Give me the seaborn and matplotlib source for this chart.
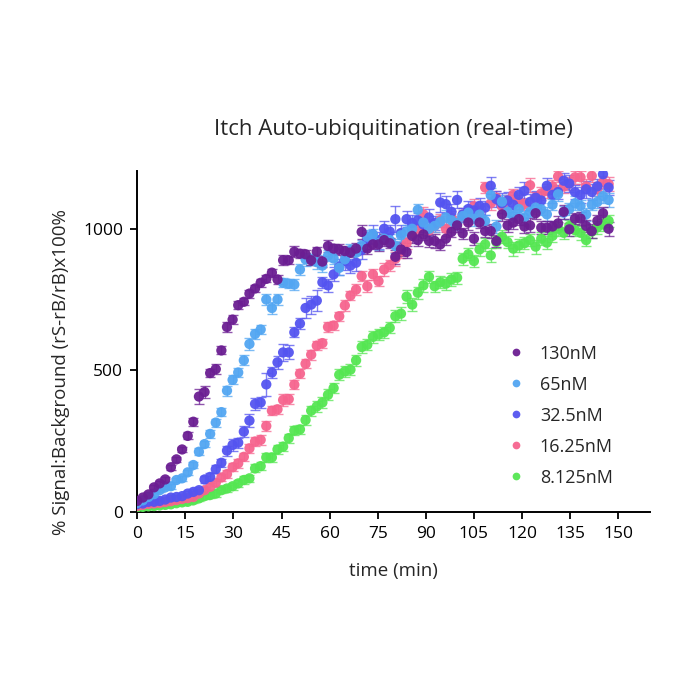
import matplotlib
matplotlib.use("Agg")
import matplotlib.pyplot as plt
import numpy as np
import pandas as pd
import seaborn as sns

# ---------------- data ----------------
time_min = [round(1.75 * i, 2) for i in range(85)]
series_labels = ["130nM", "65nM", "32.5nM", "16.25nM", "8.125nM"]
series_colors = ["#6b1e92", "#52a6f2", "#5454f0", "#f6648e", "#55e652"]

v_130 = [38, 50, 61, 86, 100, 114, 157, 185, 220, 268,
         318, 407, 423, 490, 504, 570, 653, 679, 730, 742,
         771, 789, 809, 823, 845, 821, 889, 889, 919, 912,
         910, 889, 919, 884, 939, 930, 927, 921, 916, 930,
         989, 930, 945, 945, 960, 949, 901, 927, 918, 975,
         960, 980, 957, 957, 945, 965, 989, 1012, 984, 1022,
         965, 1022, 992, 992, 957, 1051, 1012, 1022, 1034, 1008,
         1012, 1055, 1004, 1004, 1008, 1019, 1060, 998, 1036, 1036,
         1010, 992, 1028, 1055, 1000]
v_65 = [31, 40, 52, 62, 76, 86, 90, 112, 118, 139,
        165, 212, 239, 275, 315, 352, 428, 466, 492, 535,
        593, 628, 644, 750, 720, 750, 809, 806, 803, 856,
        892, 892, 882, 870, 905, 895, 862, 892, 925, 915,
        940, 972, 980, 950, 965, 960, 939, 977, 990, 1000,
        1067, 1022, 1000, 1010, 1025, 1040, 1030, 1020, 1045, 1057,
        1035, 1050, 1028, 1119, 1008, 1096, 1060, 1045, 1070, 1040,
        1060, 1075, 1069, 1051, 1085, 1122, 1057, 1070, 1090, 1081,
        1051, 1085, 1095, 1116, 1102]
v_32 = [27, 29, 35, 35, 38, 43, 50, 52, 55, 64,
        70, 76, 114, 123, 150, 173, 216, 236, 244, 283,
        322, 381, 386, 450, 492, 528, 563, 563, 634, 665,
        720, 732, 746, 811, 800, 839, 866, 886, 870, 880,
        925, 955, 980, 960, 1000, 990, 1034, 985, 1034, 1020,
        1030, 1015, 1040, 1020, 1093, 1087, 1060, 1102, 1050, 1070,
        1065, 1081, 1075, 1152, 1105, 1090, 1100, 1085, 1120, 1134,
        1095, 1110, 1100, 1152, 1120, 1130, 1170, 1160, 1130, 1120,
        1140, 1130, 1150, 1193, 1146]
v_16 = [20, 24, 27, 29, 31, 34, 37, 41, 45, 48,
        52, 64, 76, 88, 102, 121, 133, 157, 171, 194,
        224, 248, 254, 303, 357, 362, 395, 398, 449, 488,
        523, 555, 587, 596, 653, 658, 691, 729, 764, 785,
        833, 797, 839, 815, 856, 871, 894, 920, 950, 985,
        1000, 1051, 995, 1010, 1030, 1000, 1040, 1020, 1050, 1040,
        1080, 1060, 1146, 1090, 1110, 1080, 1100, 1120, 1095, 1087,
        1154, 1110, 1125, 1134, 1150, 1185, 1150, 1160, 1182, 1182,
        1150, 1187, 1140, 1165, 1158]
v_8 = [15, 17, 19, 20, 22, 24, 26, 30, 33, 35,
       40, 47, 55, 59, 64, 76, 82, 90, 100, 112,
       118, 153, 161, 192, 192, 220, 230, 260, 287, 291,
       324, 357, 372, 386, 413, 437, 484, 496, 502, 535,
       582, 590, 618, 626, 634, 650, 691, 700, 760, 732,
       774, 800, 830, 797, 811, 806, 821, 827, 894, 910,
       886, 927, 945, 906, 953, 972, 953, 930, 941, 949,
       960, 937, 965, 951, 975, 1000, 986, 1010, 995, 986,
       960, 990, 1005, 1015, 1028]

e_130 = [6, 6, 7, 7, 8, 8, 9, 10, 10, 12,
         14, 25, 22, 15, 18, 14, 18, 16, 14, 12,
         14, 13, 15, 12, 14, 16, 18, 15, 20, 15,
         14, 16, 18, 20, 22, 18, 20, 18, 16, 20,
         25, 20, 18, 22, 20, 18, 25, 22, 20, 24,
         20, 18, 22, 25, 20, 22, 18, 24, 20, 25,
         22, 20, 22, 24, 20, 25, 22, 24, 20, 22,
         25, 20, 24, 22, 20, 25, 24, 22, 20, 24,
         22, 25, 20, 22, 24]
e_65 = [5, 5, 6, 6, 7, 7, 8, 8, 9, 10,
        10, 12, 12, 14, 14, 15, 18, 16, 15, 18,
        20, 18, 16, 20, 22, 18, 16, 15, 18, 20,
        22, 20, 25, 22, 20, 18, 25, 20, 22, 24,
        20, 22, 18, 25, 20, 22, 24, 20, 22, 25,
        22, 20, 24, 22, 20, 25, 22, 24, 20, 22,
        24, 20, 22, 25, 22, 24, 20, 22, 25, 22,
        20, 24, 22, 25, 20, 24, 22, 20, 25, 22,
        24, 20, 22, 24, 25]
e_32 = [5, 5, 6, 6, 7, 7, 8, 8, 9, 10,
        10, 12, 12, 14, 14, 15, 18, 20, 18, 20,
        22, 20, 18, 40, 18, 22, 30, 25, 18, 20,
        35, 32, 38, 20, 22, 25, 28, 30, 25, 28,
        30, 25, 35, 30, 28, 25, 45, 30, 28, 30,
        25, 28, 30, 25, 35, 30, 28, 30, 25, 28,
        30, 28, 25, 30, 28, 35, 30, 25, 28, 30,
        28, 25, 30, 28, 30, 25, 28, 30, 25, 28,
        30, 28, 25, 30, 28]
e_16 = [5, 5, 6, 6, 7, 7, 8, 8, 9, 10,
        10, 10, 11, 12, 12, 13, 14, 14, 15, 15,
        16, 16, 18, 18, 16, 15, 20, 18, 16, 15,
        16, 18, 15, 16, 18, 15, 16, 18, 15, 20,
        18, 22, 20, 18, 22, 20, 25, 22, 20, 24,
        22, 25, 20, 22, 24, 25, 22, 20, 24, 22,
        25, 22, 20, 24, 22, 25, 20, 22, 24, 22,
        25, 20, 22, 24, 22, 20, 25, 22, 24, 22,
        25, 20, 24, 22, 25]
e_8 = [5, 5, 6, 6, 6, 7, 7, 8, 8, 9,
       9, 10, 10, 10, 11, 11, 12, 12, 12, 13,
       13, 14, 14, 15, 15, 15, 16, 16, 16, 17,
       17, 18, 18, 18, 19, 19, 20, 20, 20, 20,
       20, 20, 20, 20, 20, 20, 22, 22, 22, 22,
       22, 22, 22, 20, 22, 22, 22, 22, 22, 22,
       22, 22, 22, 25, 22, 22, 22, 25, 22, 22,
       22, 25, 22, 22, 22, 25, 22, 22, 22, 25,
       22, 22, 22, 22, 22]

values = [v_130, v_65, v_32, v_16, v_8]
errors = [e_130, e_65, e_32, e_16, e_8]

# Long table, lowest concentration first so 130nM ends up on top
frames = []
for lab, vals, errs in zip(series_labels[::-1], values[::-1], errors[::-1]):
    frames.append(pd.DataFrame({"time": time_min, "value": vals, "err": errs, "conc": lab}))
df = pd.concat(frames, ignore_index=True)

# ---------------- style ----------------
sns.set_theme(style="ticks")
plt.rcParams["font.family"] = ["Open Sans", "DejaVu Sans"]
plt.rcParams["axes.edgecolor"] = "black"
plt.rcParams["xtick.color"] = "black"
plt.rcParams["ytick.color"] = "black"

fig = plt.figure(figsize=(7, 7), dpi=100)
ax = fig.add_axes([0.196, 0.269, 0.733, 0.487])

# error bars
for lab, col, vals, errs in zip(series_labels[::-1], series_colors[::-1], values[::-1], errors[::-1]):
    ax.errorbar(time_min, vals, yerr=errs, fmt="none", ecolor=col, elinewidth=1.0,
                capsize=3.8, capthick=1.0, alpha=0.75, zorder=2)

sns.scatterplot(data=df, x="time", y="value", hue="conc", hue_order=series_labels,
                palette=series_colors, s=55, linewidth=0, alpha=0.95, ax=ax, zorder=3)

ax.set_xlim(0, 160)
ax.set_ylim(0, 1205)
ax.set_xticks(list(range(0, 151, 15)))
ax.set_yticks([0, 500, 1000])
sns.despine(ax=ax)
for s in ["left", "bottom"]:
    ax.spines[s].set_linewidth(1.4)
ax.tick_params(axis="both", direction="out", length=5, width=1.3, labelsize=12.5, pad=5)

ax.set_title("Itch Auto-ubiquitination (real-time)", fontsize=16, pad=26)
ax.set_xlabel("time (min)", fontsize=13.5, labelpad=15)
ax.set_ylabel("% Signal:Background (rS-rB/rB)x100%", fontsize=13.5)
ax.yaxis.set_label_coords(-0.13, 0.41)

handles, labels = ax.get_legend_handles_labels()
leg = ax.legend(handles, labels, loc="upper left", bbox_to_anchor=(0.672, 0.538),
                frameon=False, fontsize=13, labelspacing=0.72, handletextpad=0.3,
                markerscale=0.75)

fig.savefig("out.png", dpi=100, facecolor="white")
